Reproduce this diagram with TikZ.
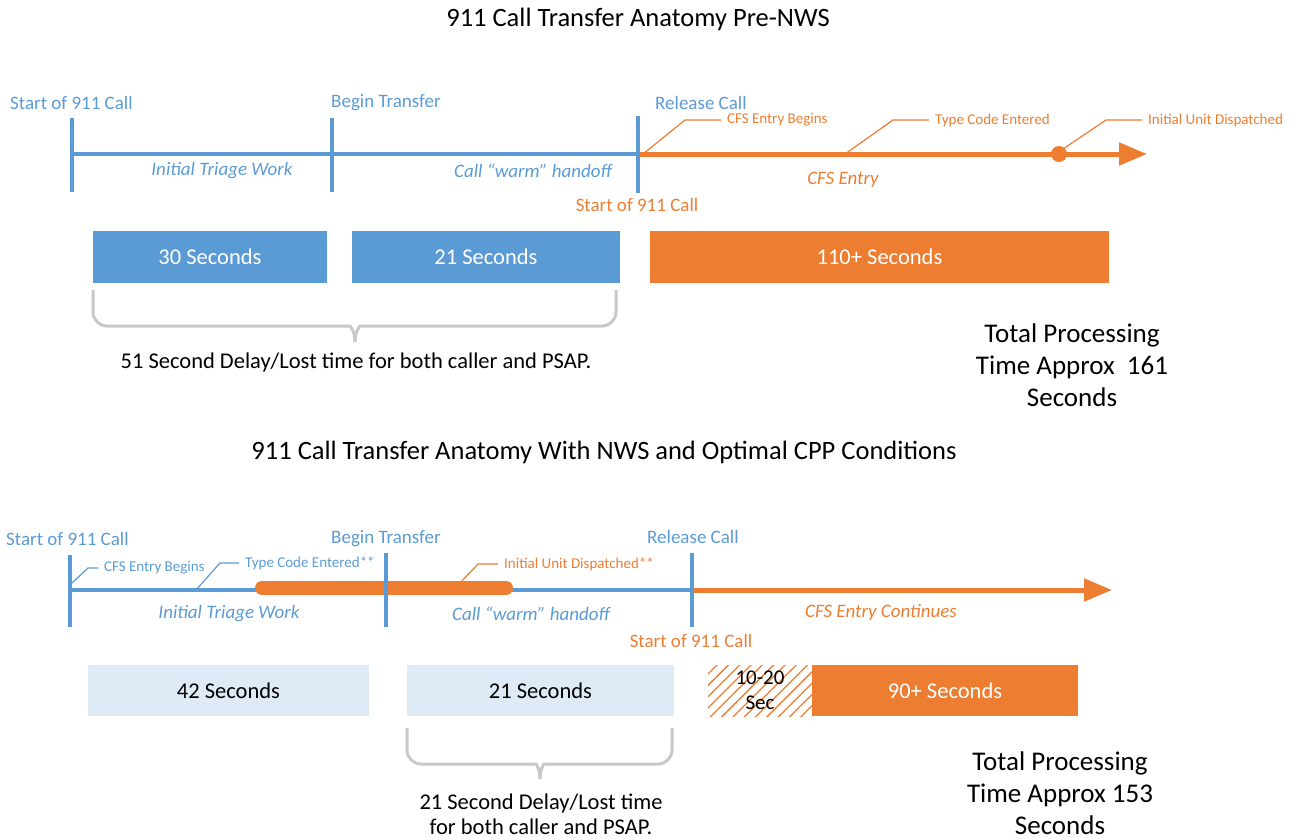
\documentclass[tikz,border=0pt]{standalone}
\usepackage{fontspec}
\setmainfont{Carlito}
\usetikzlibrary{arrows.meta,patterns.meta}
\definecolor{cblue}{RGB}{91,155,213}
\definecolor{corange}{RGB}{237,125,49}
\definecolor{cgray}{RGB}{200,200,200}
\definecolor{clight}{RGB}{222,234,246}
\begin{document}
\begin{tikzpicture}[x=1pt,y=-1pt,
  title/.style={inner sep=0, font=\fontsize{26.5}{30}\selectfont},
  lbl/.style={inner sep=0, anchor=west, font=\fontsize{19}{22}\selectfont},
  phase/.style={inner sep=0, font=\fontsize{19}{22}\selectfont\itshape},
  small/.style={inner sep=0, anchor=west, font=\fontsize{15}{18}\selectfont},
  tick/.style={cblue, line width=4pt},
  bline/.style={cblue, line width=4pt},
  oarrow/.style={corange, line width=5pt, -{Triangle[length=28pt,width=22pt]}},
  callb/.style={cblue, line width=1.2pt},
  callo/.style={corange, line width=1.2pt},
  boxtxt/.style={font=\fontsize{22.5}{26}\selectfont},
  bbox/.style={fill=cblue, text=white, boxtxt},
  obox/.style={fill=corange, text=white, boxtxt},
  lbox/.style={fill=clight, text=black, boxtxt},
  brace/.style={cgray, line width=3pt},
  note/.style={inner sep=0, align=center, font=\fontsize{22.5}{25}\selectfont},
  total/.style={inner sep=0, align=center, font=\fontsize{27}{32}\selectfont},
]
\useasboundingbox (0,0) rectangle (1298,839);

%================ TOP ================
\node[title] (t1) at (638,19) {911 Call Transfer Anatomy Pre-NWS};

\draw[bline] (72,154) -- (640,154);
\draw[oarrow] (640,154) -- (1147,154);
\node[circle, fill=corange, inner sep=0, minimum size=16pt] (dot) at (1059,154) {};

\coordinate (a1t) at (72,118);  \coordinate (a1b) at (72,192);
\coordinate (a2t) at (332,118); \coordinate (a2b) at (332,192);
\coordinate (a3t) at (638,116); \coordinate (a3b) at (638,193);
\draw[tick] (a1t) -- (a1b);
\draw[tick] (a2t) -- (a2b);
\draw[tick] (a3t) -- (a3b);

\node[lbl, text=cblue] (s1) at (10,103) {Start of 911 Call};
\node[lbl, text=cblue] (s2) at (331,103) {Begin Transfer};
\node[lbl, text=cblue] (s3) at (655,103) {Release Call};
\node[inner sep=0, text=corange, font=\fontsize{19}{22}\selectfont] (s4) at (637,205) {Start of 911 Call};

\node[phase, text=cblue] (p1) at (222,171) {Initial Triage Work};
\node[phase, text=cblue] (p2) at (533,171) {Call “warm” handoff};
\node[phase, text=corange] (p3) at (843,180) {CFS Entry};

\node[small, text=corange] (c1) at (727,120) {CFS Entry Begins};
\node[small, text=corange] (c2) at (935,120) {Type Code Entered};
\node[small, text=corange] (c3) at (1148,120) {Initial Unit Dispatched};
\coordinate (c1p) at (643,154);
\coordinate (c2p) at (845,154);
\coordinate (c3p) at (1063,149);
\draw[callo] (c1p) -- (685,120) -- ([xshift=-6pt]c1.west);
\draw[callo] (c2p) -- (893,120) -- ([xshift=-6pt]c2.west);
\draw[callo] (c3p) -- (1106,120) -- ([xshift=-6pt]c3.west);

\node[bbox, minimum width=234pt, minimum height=52pt] (b1) at (210,257) {30 Seconds};
\node[bbox, minimum width=268pt, minimum height=52pt] (b2) at (486,257) {21 Seconds};
\node[obox, minimum width=459pt, minimum height=52pt] (b3) at (879.5,257) {110+ Seconds};

\draw[brace, rounded corners=14pt] (93,290) -- (93,326) -- (336,326) .. controls (350,326) and (355,331) .. (355,342);
\draw[brace, rounded corners=14pt] (616,290) -- (616,326) -- (374,326) .. controls (360,326) and (355,331) .. (355,342);

\node[note] (n1) at (356,362) {51 Second Delay/Lost time for both caller and PSAP.};
\node[total] (tot1) at (1072,365) {Total Processing\\Time Approx\ \ 161\\Seconds};

%================ BOTTOM ================
\node[title] (t2) at (604,452) {911 Call Transfer Anatomy With NWS and Optimal CPP Conditions};

\draw[bline] (70,590) -- (694,590);
\draw[oarrow] (694,590) -- (1112,590);
\draw[corange, line width=14pt, line cap=round] (262,588) -- (506,588);

\coordinate (d1t) at (70,555);  \coordinate (d1b) at (70,627);
\coordinate (d2t) at (386,553); \coordinate (d2b) at (386,627);
\coordinate (d3t) at (692,553); \coordinate (d3b) at (692,627);
\draw[tick] (d1t) -- (d1b);
\draw[tick] (d2t) -- (d2b);
\draw[tick] (d3t) -- (d3b);

\node[lbl, text=cblue] (u1) at (6,539) {Start of 911 Call};
\node[lbl, text=cblue] (u2) at (331,539) {Begin Transfer};
\node[lbl, text=cblue] (u3) at (647,537) {Release Call};
\node[inner sep=0, text=corange, font=\fontsize{19}{22}\selectfont] (u4) at (691,641) {Start of 911 Call};

\node[phase, text=cblue] (q1) at (229,614) {Initial Triage Work};
\node[phase, text=cblue] (q2) at (531,614) {Call “warm” handoff};
\node[phase, text=corange] (q3) at (881,612) {CFS Entry Continues};

\node[small, text=cblue] (e1) at (104,568) {CFS Entry Begins};
\node[small, text=cblue] (e2) at (245,563) {Type Code Entered**};
\node[small, text=corange] (e3) at (504,564) {Initial Unit Dispatched**};
\coordinate (e1p) at (72,583);
\coordinate (e2p) at (196,590);
\coordinate (e3p) at (460,583);
\draw[callb] (e1p) -- (88,568) -- ([xshift=-6pt]e1.west);
\draw[callb] (e2p) -- (220,563) -- ([xshift=-6pt]e2.west);
\draw[callo] (e3p) -- (478,564) -- ([xshift=-6pt]e3.west);

\node[lbox, minimum width=281pt, minimum height=51pt] (g1) at (228.5,690.5) {42 Seconds};
\node[lbox, minimum width=267pt, minimum height=51pt] (g2) at (540.5,690.5) {21 Seconds};
\node[pattern={Lines[angle=45,distance=8pt,line width=1.3pt]}, pattern color=corange,
      minimum width=104pt, minimum height=51pt, align=center, inner sep=0,
      font=\fontsize{21}{25}\selectfont] (g3) at (760,690.5) {10-20\\Sec};
\node[obox, minimum width=266pt, minimum height=51pt] (g4) at (945,690.5) {90+ Seconds};

\draw[brace, rounded corners=14pt] (407,728) -- (407,764) -- (522,764) .. controls (536,764) and (540,769) .. (540,779);
\draw[brace, rounded corners=14pt] (672,728) -- (672,764) -- (558,764) .. controls (544,764) and (540,769) .. (540,779);

\node[note] (n2) at (541,814) {21 Second Delay/Lost time\\for both caller and PSAP.};
\node[total] (tot2) at (1060,793) {Total Processing\\Time Approx 153\\Seconds};
\end{tikzpicture}
\end{document}
